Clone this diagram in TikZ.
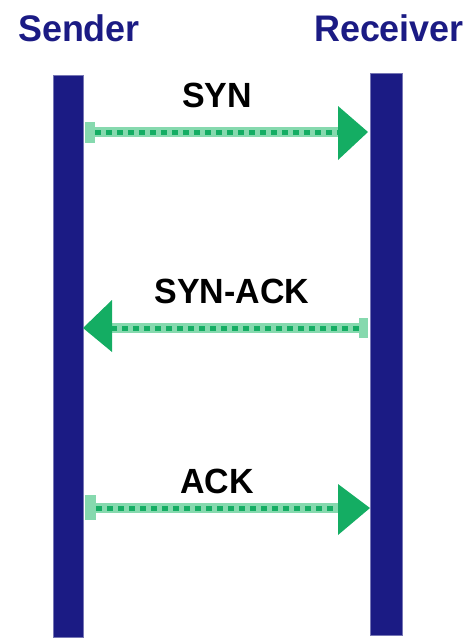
\documentclass[tikz,border=0pt]{standalone}
\usepackage{fontspec}
\setmainfont{Liberation Sans}
\begin{document}
\begin{tikzpicture}[x=1pt,y=-1pt,
  bar/.style={fill=navy, draw=navy!60, line width=1pt},
  head/.style={text=navy, font=\fontsize{37}{40}\selectfont\bfseries, anchor=base, inner sep=0pt, xscale=0.97},
  lab/.style={text=black, font=\fontsize{35}{38}\selectfont\bfseries, anchor=base, inner sep=0pt, xscale=0.97},
  glow/.style={draw=lightgreen, line width=10pt},
  dots/.style={draw=msggreen, line width=5pt, dash pattern=on 6pt off 5pt},
  tip/.style={fill=msggreen},
  startmark/.style={fill=lightgreen}
]
\definecolor{navy}{HTML}{1B1B84}
\definecolor{msggreen}{HTML}{14AD63}
\definecolor{lightgreen}{HTML}{86D9AE}
\useasboundingbox (0,0) rectangle (469,638);
% lifelines
\path[bar] (53,75) rectangle (83,637);
\path[bar] (370,73) rectangle (402,635);
\coordinate (sL) at (83,0);
\coordinate (sR) at (370,0);
% headers
\node[head] (sender) at (79,41) {Sender};
\node[head] (receiver) at (389,41) {Receiver};
% SYN
\coordinate (a1) at (85,132);
\coordinate (b1) at (340,132);
\coordinate (t1) at (368,132);
\path[startmark] (85,122) rectangle (95,143);
\draw[glow] (95,132) -- (b1);
\draw[dots] (95,132) -- (b1);
\path[tip] (338,106) -- (t1) -- (338,160) -- cycle;
\node[lab] (syn) at (217,107) {SYN};
% SYN-ACK
\coordinate (t2) at (83,328);
\path[startmark] (359,318) rectangle (368,338);
\draw[glow] (359,328) -- (110,328);
\draw[dots] (359,328) -- (110,328);
\path[tip] (112,300) -- (t2) -- (112,352) -- cycle;
\node[lab] (synack) at (232,303) {SYN-ACK};
% ACK
\coordinate (t3) at (370,508);
\path[startmark] (85,495) rectangle (96,520);
\draw[glow] (96,508) -- (340,508);
\draw[dots] (96,508) -- (340,508);
\path[tip] (338,484) -- (t3) -- (338,535) -- cycle;
\node[lab] (ack) at (217,493) {ACK};
\end{tikzpicture}
\end{document}
